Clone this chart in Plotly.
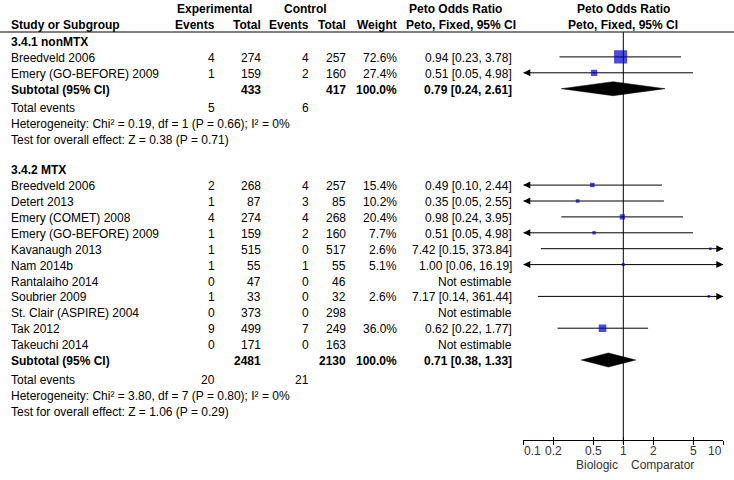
import math
import plotly.graph_objects as go

W, H = 734, 480

# ---- 3.4.1 nonMTX ----
nonmtx_study = ["Breedveld 2006", "Emery (GO-BEFORE) 2009"]
nonmtx_exp_events = [4, 1]
nonmtx_exp_total = [274, 159]
nonmtx_ctrl_events = [4, 2]
nonmtx_ctrl_total = [257, 160]
nonmtx_weight = [72.6, 27.4]
nonmtx_or = [0.94, 0.51]
nonmtx_lo = [0.23, 0.05]
nonmtx_hi = [3.78, 4.98]
nonmtx_sub_total = [433, 417]
nonmtx_sub_or = [0.79, 0.24, 2.61]
nonmtx_total_events = [5, 6]
nonmtx_het = "Heterogeneity: Chi² = 0.19, df = 1 (P = 0.66); I² = 0%"
nonmtx_test = "Test for overall effect: Z = 0.38 (P = 0.71)"

# ---- 3.4.2 MTX ----
mtx_study = ["Breedveld 2006", "Detert 2013", "Emery (COMET) 2008", "Emery (GO-BEFORE) 2009",
             "Kavanaugh 2013", "Nam 2014b", "Rantalaiho 2014", "Soubrier 2009",
             "St. Clair (ASPIRE) 2004", "Tak 2012", "Takeuchi 2014"]
mtx_exp_events = [2, 1, 4, 1, 1, 1, 0, 1, 0, 9, 0]
mtx_exp_total = [268, 87, 274, 159, 515, 55, 47, 33, 373, 499, 171]
mtx_ctrl_events = [4, 3, 4, 2, 0, 1, 0, 0, 0, 7, 0]
mtx_ctrl_total = [257, 85, 268, 160, 517, 55, 46, 32, 298, 249, 163]
mtx_weight = [15.4, 10.2, 20.4, 7.7, 2.6, 5.1, None, 2.6, None, 36.0, None]
mtx_or = [0.49, 0.35, 0.98, 0.51, 7.42, 1.00, None, 7.17, None, 0.62, None]
mtx_lo = [0.10, 0.05, 0.24, 0.05, 0.15, 0.06, None, 0.14, None, 0.22, None]
mtx_hi = [2.44, 2.55, 3.95, 4.98, 373.84, 16.19, None, 361.44, None, 1.77, None]
mtx_sub_total = [2481, 2130]
mtx_sub_or = [0.71, 0.38, 1.33]
mtx_total_events = [20, 21]
mtx_het = "Heterogeneity: Chi² = 3.80, df = 7 (P = 0.80); I² = 0%"
mtx_test = "Test for overall effect: Z = 1.06 (P = 0.29)"

# axis
tick_vals = [0.1, 0.2, 0.5, 1, 2, 5, 10]
tick_text = ["0.1", "0.2", "0.5", "1", "2", "5", "10"]
favours = ["Biologic", "Comparator"]

sections = [
    ("3.4.1 nonMTX", nonmtx_study, nonmtx_exp_events, nonmtx_exp_total, nonmtx_ctrl_events,
     nonmtx_ctrl_total, nonmtx_weight, nonmtx_or, nonmtx_lo, nonmtx_hi, nonmtx_sub_total,
     nonmtx_sub_or, nonmtx_total_events, nonmtx_het, nonmtx_test),
    ("3.4.2 MTX", mtx_study, mtx_exp_events, mtx_exp_total, mtx_ctrl_events,
     mtx_ctrl_total, mtx_weight, mtx_or, mtx_lo, mtx_hi, mtx_sub_total,
     mtx_sub_or, mtx_total_events, mtx_het, mtx_test),
]

FONT = "Liberation Sans, Arial, sans-serif"
FS = 12
LO_LIM, HI_LIM = 0.1, 10
STEP = 15.9
AXIS_Y = 440

# column right edges (px)
C_NAME, C_EE, C_ET, C_CE, C_CT, C_W, C_OR = 10, 216, 262, 310, 347, 398, 513

annotations = []


def txt(x, y, s, anchor="right", bold=False, color="black", size=FS, xref="paper"):
    if bold:
        s = "<b>" + s + "</b>"
    annotations.append(dict(x=x / W if xref == "paper" else x, y=y + 1, xref=xref, yref="y",
                            text=s, showarrow=False, xanchor=anchor, yanchor="middle",
                            borderpad=0, font=dict(family=FONT, size=size, color=color)))


# headers
txt(214.5, 8, "Experimental", "center", True)
txt(305.5, 8, "Control", "center", True)
txt(456, 8, "Peto Odds Ratio", "center", True)
txt(623, 8, "Peto Odds Ratio", "center", True)
txt(C_NAME, 24, "Study or Subgroup", "left", True)
txt(C_EE, 24, "Events", bold=True)
txt(C_ET, 24, "Total", bold=True)
txt(C_CE, 24, "Events", bold=True)
txt(C_CT, 24, "Total", bold=True)
txt(C_W, 24, "Weight", bold=True)
txt(461, 24, "Peto, Fixed, 95% CI", "center", True)
txt(623, 24, "Peto, Fixed, 95% CI", "center", True)

ci_x, ci_y = [], []
sq_x, sq_y, sq_s = [], [], []
arl_y, arr_y = [], []
diamonds = []

y = 41
for (title, study, ee, et, ce, ct, wt, orr, lo, hi, subt, subor, tev, het, test) in sections:
    txt(C_NAME, y, title, "left", True)
    for i in range(len(study)):
        y += STEP
        txt(C_NAME, y, study[i], "left")
        txt(C_EE, y, str(ee[i]))
        txt(C_ET, y, str(et[i]))
        txt(C_CE, y, str(ce[i]))
        txt(C_CT, y, str(ct[i]))
        if orr[i] is None:
            txt(C_OR, y, "Not estimable")
            continue
        txt(C_W, y, f"{wt[i]:.1f}%")
        txt(C_OR, y, f"{orr[i]:.2f} [{lo[i]:.2f}, {hi[i]:.2f}]")
        ci_x += [max(lo[i], LO_LIM), min(hi[i], HI_LIM), None]
        ci_y += [y, y, None]
        sq_x.append(orr[i])
        sq_y.append(y)
        sq_s.append(2.2 + 0.15 * wt[i])
        if lo[i] <= LO_LIM:
            arl_y.append(y)
        if hi[i] >= HI_LIM:
            arr_y.append(y)
    y += STEP
    txt(C_NAME, y, "Subtotal (95% CI)", "left", True)
    txt(C_ET, y, str(subt[0]), bold=True)
    txt(C_CT, y, str(subt[1]), bold=True)
    txt(C_W, y, "100.0%", bold=True)
    txt(C_OR, y, f"{subor[0]:.2f} [{subor[1]:.2f}, {subor[2]:.2f}]", bold=True)
    diamonds.append((subor, y))
    y += 18.5
    txt(C_NAME, y, "Total events", "left")
    txt(C_EE, y, str(tev[0]))
    txt(C_CE, y, str(tev[1]))
    y += 16
    txt(C_NAME, y, het, "left")
    y += 16
    txt(C_NAME, y, test, "left")
    y += 30

fig = go.Figure()

# line of no effect
fig.add_trace(go.Scatter(x=[1, 1], y=[32, AXIS_Y + 4], mode="lines",
                         line=dict(color="black", width=1), hoverinfo="skip"))
# CI lines
fig.add_trace(go.Scatter(x=ci_x, y=ci_y, mode="lines",
                         line=dict(color="black", width=1), hoverinfo="skip"))
# arrows for clipped CIs
fig.add_trace(go.Scatter(x=[LO_LIM] * len(arl_y), y=arl_y, mode="markers",
                         marker=dict(symbol="arrow-left", size=7, color="black",
                                     line=dict(width=0))))
fig.add_trace(go.Scatter(x=[HI_LIM] * len(arr_y), y=arr_y, mode="markers",
                         marker=dict(symbol="arrow-right", size=7, color="black",
                                     line=dict(width=0))))
# study squares
fig.add_trace(go.Scatter(x=sq_x, y=sq_y, mode="markers",
                         marker=dict(symbol="square", size=sq_s, color="#0000CC",
                                     line=dict(width=0))))
# subtotal diamonds
for (o, lo, hi), yy in diamonds:
    fig.add_trace(go.Scatter(x=[lo, o, hi, o, lo], y=[yy, yy - 7, yy, yy + 7, yy],
                             mode="lines", fill="toself", fillcolor="black",
                             line=dict(color="black", width=0.5), hoverinfo="skip"))
# dummy trace so the crossing-tick axis is drawn
fig.add_trace(go.Scatter(x=[1], y=[-100], xaxis="x3", mode="markers",
                         marker=dict(opacity=0), hoverinfo="skip"))

# tick labels (end labels pulled inward like the original)
for k, (v, s) in enumerate(zip(tick_vals, tick_text)):
    anchor = "left" if k == 0 else ("right" if k == len(tick_vals) - 1 else "center")
    txt(math.log10(v), 450, s, anchor, color="#333333", size=12, xref="x")

for xv, s in zip([597, 662], favours):
    txt(xv, 463.5, s, "center", color="#333333")

axis_pos = (H - AXIS_Y) / H
dom = [523.3 / W, 723.3 / W]

fig.update_layout(
    width=W, height=H,
    margin=dict(l=0, r=0, t=0, b=0),
    paper_bgcolor="white", plot_bgcolor="white",
    showlegend=False,
    annotations=annotations,
    shapes=[dict(type="line", xref="paper", yref="y", x0=0, x1=1, y0=32, y1=32,
                 line=dict(color="black", width=1))],
    xaxis=dict(type="log", range=[-1, 1], domain=dom, anchor="free", position=axis_pos,
               showgrid=False, zeroline=False, showline=True, linecolor="black", linewidth=1,
               ticks="outside", ticklen=4, tickcolor="black", tickwidth=1,
               tickvals=tick_vals, showticklabels=False),
    xaxis3=dict(type="log", range=[-1, 1], overlaying="x", anchor="free", position=axis_pos,
                showgrid=False, zeroline=False, showline=False,
                ticks="inside", ticklen=3, tickcolor="black", tickwidth=1,
                tickvals=tick_vals, showticklabels=False),
    yaxis=dict(range=[H, 0], domain=[0, 1], visible=False),
)

fig.write_html("out.html", config={"displayModeBar": False},
               post_script="document.body.style.margin='0';")
